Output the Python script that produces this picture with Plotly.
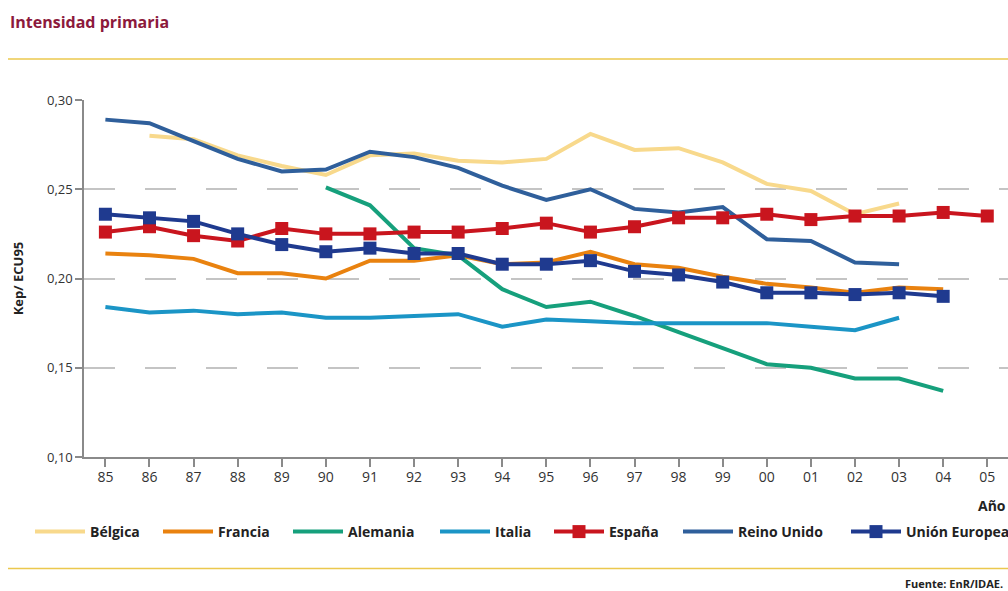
import plotly.graph_objects as go

years = ["85", "86", "87", "88", "89", "90", "91", "92", "93", "94", "95",
         "96", "97", "98", "99", "00", "01", "02", "03", "04", "05"]

belgica = [None, 0.280, 0.278, 0.269, 0.263, 0.258, 0.269, 0.270, 0.266, 0.265, 0.267,
           0.281, 0.272, 0.273, 0.265, 0.253, 0.249, 0.236, 0.242, None, None]
francia = [0.214, 0.213, 0.211, 0.203, 0.203, 0.200, 0.210, 0.210, 0.213, 0.208, 0.209,
           0.215, 0.208, 0.206, 0.201, 0.197, 0.195, 0.192, 0.195, 0.194, None]
alemania = [None, None, None, None, None, 0.251, 0.241, 0.217, 0.213, 0.194, 0.184,
            0.187, 0.179, 0.170, 0.161, 0.152, 0.150, 0.144, 0.144, 0.137, None]
italia = [0.184, 0.181, 0.182, 0.180, 0.181, 0.178, 0.178, 0.179, 0.180, 0.173, 0.177,
          0.176, 0.175, 0.175, 0.175, 0.175, 0.173, 0.171, 0.178, None, None]
espana = [0.226, 0.229, 0.224, 0.221, 0.228, 0.225, 0.225, 0.226, 0.226, 0.228, 0.231,
          0.226, 0.229, 0.234, 0.234, 0.236, 0.233, 0.235, 0.235, 0.237, 0.235]
reino_unido = [0.289, 0.287, 0.277, 0.267, 0.260, 0.261, 0.271, 0.268, 0.262, 0.252, 0.244,
               0.250, 0.239, 0.237, 0.240, 0.222, 0.221, 0.209, 0.208, None, None]
ue = [0.236, 0.234, 0.232, 0.225, 0.219, 0.215, 0.217, 0.214, 0.214, 0.208, 0.208,
      0.210, 0.204, 0.202, 0.198, 0.192, 0.192, 0.191, 0.192, 0.190, None]

y_ticks = [0.10, 0.15, 0.20, 0.25, 0.30]
y_ticktext = ["0,10", "0,15", "0,20", "0,25", "0,30"]

W, H = 1008, 591
FONT = "Open Sans, DejaVu Sans, sans-serif"

series = [
    # name, values, color, markers, legend id, legend x px
    ("Bélgica", belgica, "#F8D98C", False, "legend", 30),
    ("Reino Unido", reino_unido, "#2F5F9B", False, "legend6", 678),
    ("Francia", francia, "#E9820F", False, "legend2", 158),
    ("Alemania", alemania, "#16A07C", False, "legend3", 288),
    ("Italia", italia, "#1B95C6", False, "legend4", 435),
    ("España", espana, "#C9151E", True, "legend5", 549),
    ("Unión Europea", ue, "#1F3A8F", True, "legend7", 846),
]

fig = go.Figure()
legend_layouts = {}
for name, vals, color, mk, lg, lx in series:
    fig.add_trace(go.Scatter(
        x=years, y=vals, name=name, legend=lg,
        mode="lines+markers" if mk else "lines",
        line=dict(color=color, width=4),
        marker=dict(symbol="square", size=13, color=color) if mk else None,
        connectgaps=False,
    ))
    legend_layouts[lg] = dict(
        xref="container", yref="container",
        x=lx / W, y=1 - 532 / H, xanchor="left", yanchor="middle",
        orientation="h", bgcolor="rgba(0,0,0,0)", borderwidth=0,
        itemwidth=50,
        font=dict(family=FONT, size=14, color="#222222", weight="bold"),
    )

# plot area geometry
L, T, B_px = 84, 100, 456.7
ph = B_px - T

def py(pix):
    return (B_px - pix) / ph

fig.update_layout(
    width=W, height=H,
    margin=dict(l=L, r=0, t=T, b=H - B_px),
    paper_bgcolor="white", plot_bgcolor="white",
    showlegend=True,
    title=dict(text="<b>Intensidad primaria</b>", x=10 / W, xanchor="left",
               y=1 - 22 / H, yanchor="middle",
               font=dict(family=FONT, size=16, color="#8C1A3C")),
    xaxis=dict(type="category", range=[-0.485, 20.47],
               showline=True, linecolor="#8A8A8A", linewidth=1.5,
               ticks="outside", ticklen=8, tickcolor="#8A8A8A", tickwidth=1.5,
               showgrid=False, zeroline=False, ticklabelstandoff=-2,
               tickfont=dict(family=FONT, size=14, color="#333333")),
    yaxis=dict(range=[0.10, 0.30], tickvals=y_ticks, ticktext=y_ticktext,
               showline=True, linecolor="#8A8A8A", linewidth=1.5,
               ticks="outside", ticklen=7, tickcolor="#8A8A8A", tickwidth=1.5,
               showgrid=True, gridcolor="#C4C4C4", gridwidth=1.5, griddash="31px,30px",
               zeroline=False,
               title=dict(text="<b>Kep/ ECU95</b>", standoff=20,
                          font=dict(family=FONT, size=13, color="#222222")),
               tickfont=dict(family=FONT, size=13, color="#333333")),
    shapes=[
        dict(type="line", xref="paper", yref="paper",
             x0=(8 - L) / (W - L), x1=1.0, y0=py(59), y1=py(59),
             line=dict(color="#EBC84E", width=1.5)),
        dict(type="line", xref="paper", yref="paper",
             x0=(8 - L) / (W - L), x1=1.0, y0=py(568), y1=py(568),
             line=dict(color="#EBC84E", width=1.5)),
    ],
    annotations=[
        dict(text="<b>Año</b>", xref="paper", yref="paper",
             x=1.0, y=py(505), xanchor="right", yanchor="middle", showarrow=False,
             font=dict(family=FONT, size=14, color="#222222")),
        dict(text="<b>Fuente: EnR/IDAE.</b>", xref="paper", yref="paper",
             x=(1005 - L) / (W - L), y=py(583), xanchor="right", yanchor="middle",
             showarrow=False, font=dict(family=FONT, size=11, color="#222222")),
    ],
)
fig.update_layout(**legend_layouts)

fig.write_html("out.html")
